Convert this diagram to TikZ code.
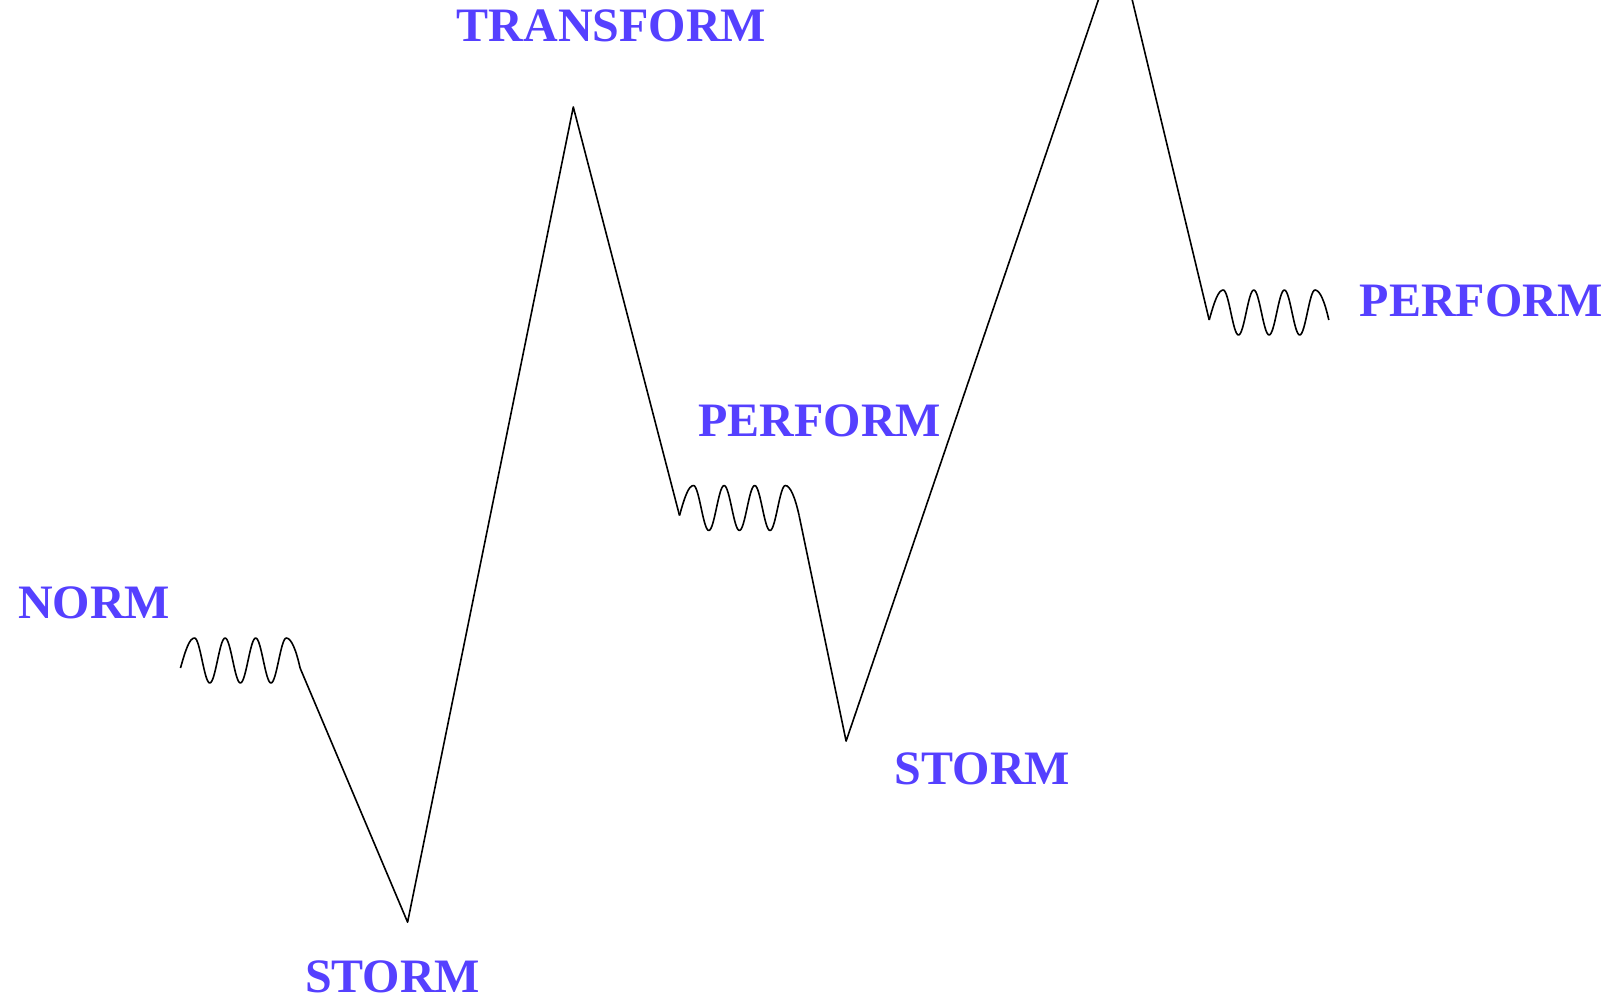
\documentclass[tikz,border=0pt]{standalone}
\usepackage{fontspec}
\setmainfont{Liberation Serif}
\definecolor{labelblue}{RGB}{85,64,255}
\tikzset{
  stage/.style={font=\fontsize{48}{50}\selectfont\bfseries, text=labelblue, inner sep=0pt, anchor=base},
  curve/.style={line width=1.6pt, black, line join=round},
  wave/.pic={
    \draw[curve] (0,0) .. controls (5,-18) and (9,-30) .. (14,-30)
      .. controls (19.6,-30) and (23.7,15) .. (29.3,15)
      .. controls (34.9,15) and (39,-30) .. (44.6,-30)
      .. controls (50.2,-30) and (54.3,15) .. (59.9,15)
      .. controls (65.5,15) and (69.6,-30) .. (75.2,-30)
      .. controls (80.8,-30) and (84.9,15) .. (90.5,15)
      .. controls (96.1,15) and (100.2,-30) .. (105.8,-30)
      .. controls (110.8,-30) and (115.6,-18) .. (119.6,0);
  }
}
\begin{document}
\begin{tikzpicture}[x=1pt,y=-1pt]
\useasboundingbox (0,0) rectangle (1614,999);
\clip (0,0) rectangle (1614,999);
% vertices
\coordinate (w1s) at (180.5,668);
\coordinate (w1e) at (300.1,668);
\coordinate (s1) at (407.6,922.2);
\coordinate (t1) at (573.3,107);
\coordinate (w2s) at (679.5,515.5);
\coordinate (w2e) at (799.1,515.5);
\coordinate (s2) at (846.1,741.1);
\coordinate (t2) at (1118.2,-58.4);
\coordinate (w3s) at (1209.2,320);
% waves
\pic at (w1s) {wave};
\pic at (w2s) {wave};
\pic at (w3s) {wave};
% lines
\draw[curve] (w1e) -- (s1) -- (t1) -- (w2s);
\draw[curve] (w2e) -- (s2) -- (t2) -- (w3s);
% labels
\node[stage] (norm) at (94.2,618) {NORM};
\node[stage] (transform) at (611.4,41.6) {TRANSFORM};
\node[stage] (storma) at (392.7,992.8) {STORM};
\node[stage] (performa) at (819.8,436) {PERFORM};
\node[stage] (stormb) at (982.5,784) {STORM};
\node[stage] (performb) at (1481.2,316.5) {PERFORM};
\end{tikzpicture}
\end{document}
